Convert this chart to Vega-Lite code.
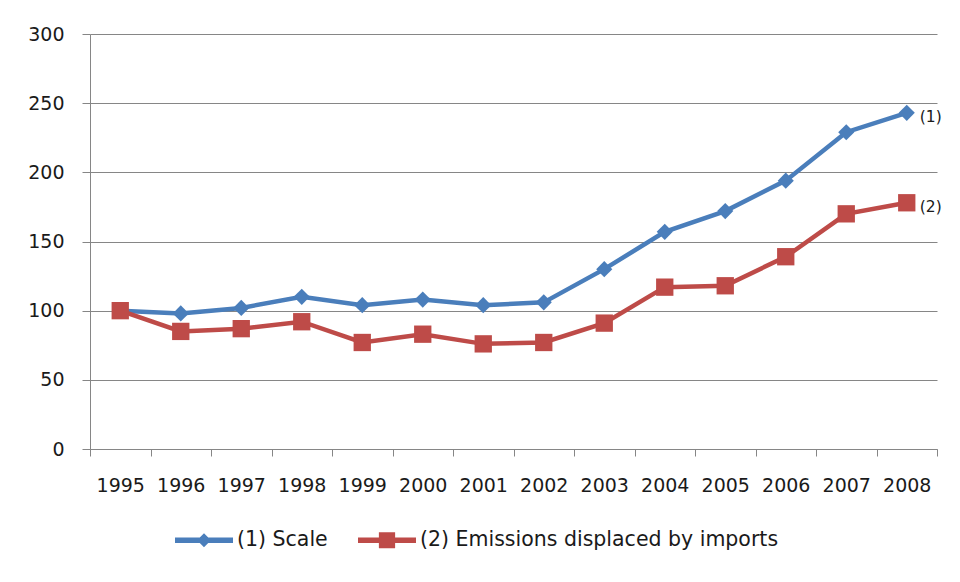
{
  "$schema": "https://vega.github.io/schema/vega-lite/v6.json",
  "width": 847,
  "height": 415,
  "autosize": {"type": "none"},
  "padding": {"left": 90, "top": 34, "right": 23, "bottom": 133},
  "background": "white",
  "config": {
    "view": {"stroke": null},
    "font": "DejaVu Sans",
    "axis": {
      "labelFont": "DejaVu Sans",
      "labelFontSize": 19,
      "labelColor": "#1a1a1a",
      "domainColor": "#868686",
      "tickColor": "#868686",
      "gridColor": "#868686",
      "title": null
    }
  },
  "datasets": {
    "series": [
      {"year": "1995", "series": "(1) Scale", "value": 100},
      {"year": "1996", "series": "(1) Scale", "value": 98},
      {"year": "1997", "series": "(1) Scale", "value": 102},
      {"year": "1998", "series": "(1) Scale", "value": 110},
      {"year": "1999", "series": "(1) Scale", "value": 104},
      {"year": "2000", "series": "(1) Scale", "value": 108},
      {"year": "2001", "series": "(1) Scale", "value": 104},
      {"year": "2002", "series": "(1) Scale", "value": 106},
      {"year": "2003", "series": "(1) Scale", "value": 130},
      {"year": "2004", "series": "(1) Scale", "value": 157},
      {"year": "2005", "series": "(1) Scale", "value": 172},
      {"year": "2006", "series": "(1) Scale", "value": 194},
      {"year": "2007", "series": "(1) Scale", "value": 229},
      {"year": "2008", "series": "(1) Scale", "value": 243},
      {"year": "1995", "series": "(2) Emissions displaced by imports", "value": 100},
      {"year": "1996", "series": "(2) Emissions displaced by imports", "value": 85},
      {"year": "1997", "series": "(2) Emissions displaced by imports", "value": 87},
      {"year": "1998", "series": "(2) Emissions displaced by imports", "value": 92},
      {"year": "1999", "series": "(2) Emissions displaced by imports", "value": 77},
      {"year": "2000", "series": "(2) Emissions displaced by imports", "value": 83},
      {"year": "2001", "series": "(2) Emissions displaced by imports", "value": 76},
      {"year": "2002", "series": "(2) Emissions displaced by imports", "value": 77},
      {"year": "2003", "series": "(2) Emissions displaced by imports", "value": 91},
      {"year": "2004", "series": "(2) Emissions displaced by imports", "value": 117},
      {"year": "2005", "series": "(2) Emissions displaced by imports", "value": 118},
      {"year": "2006", "series": "(2) Emissions displaced by imports", "value": 139},
      {"year": "2007", "series": "(2) Emissions displaced by imports", "value": 170},
      {"year": "2008", "series": "(2) Emissions displaced by imports", "value": 178}
    ],
    "endLabels": [
      {"year": "2008", "value": 243, "tag": "(1)"},
      {"year": "2008", "value": 178, "tag": "(2)"}
    ]
  },
  "layer": [
    {
      "data": {"name": "series"},
      "mark": {"type": "line", "strokeWidth": 4.5},
      "encoding": {
        "x": {
          "field": "year", "type": "ordinal",
          "scale": {"paddingInner": 0, "paddingOuter": 0},
          "axis": {
            "labelAngle": 0, "tickBand": "extent", "tickSize": 7,
            "labelPadding": 20, "grid": false, "domainWidth": 1
          }
        },
        "y": {
          "field": "value", "type": "quantitative",
          "scale": {"domain": [0, 300], "nice": false},
          "axis": {
            "values": [0, 50, 100, 150, 200, 250, 300],
            "tickSize": 8, "labelPadding": 18, "grid": true
          }
        },
        "color": {
          "field": "series", "type": "nominal",
          "scale": {"range": ["#4A7EBB", "#BE4B48"]},
          "legend": {
            "title": null,
            "orient": "none",
            "direction": "horizontal",
            "legendX": 85,
            "legendY": 477,
            "labelFontSize": 20.5,
            "labelFont": "DejaVu Sans",
            "labelColor": "#1a1a1a",
            "labelLimit": 500,
            "symbolSize": 3364,
            "symbolStrokeWidth": 0,
            "labelOffset": 4,
            "columnPadding": 30,
            "encode": {
              "symbols": {
                "update": {
                  "shape": {"signal": "datum.value === '(1) Scale' ? 'M-1,-0.095L1,-0.095L1,0.095L-1,0.095Z M0,-0.24L0.24,0L0,0.24L-0.24,0Z' : 'M-1,-0.095L1,-0.095L1,0.095L-1,0.095Z M-0.28,-0.28L0.28,-0.28L0.28,0.28L-0.28,0.28Z'"},
                  "fill": {"scale": "color", "field": "value"},
                  "strokeWidth": {"value": 0},
                  "opacity": {"value": 1}
                }
              }
            }
          }
        }
      }
    },
    {
      "data": {"name": "series"},
      "mark": {"type": "point", "filled": true, "opacity": 1},
      "encoding": {
        "x": {"field": "year", "type": "ordinal"},
        "y": {"field": "value", "type": "quantitative"},
        "shape": {
          "field": "series", "type": "nominal",
          "scale": {"range": ["diamond", "square"]},
          "legend": null
        },
        "size": {
          "field": "series", "type": "nominal",
          "scale": {"range": [260, 300]},
          "legend": null
        },
        "color": {"field": "series", "type": "nominal"}
      }
    },
    {
      "data": {"name": "endLabels"},
      "mark": {"type": "text", "align": "left", "dx": 13, "dy": 4, "fontSize": 15.5, "color": "#1a1a1a", "font": "DejaVu Sans"},
      "encoding": {
        "x": {"field": "year", "type": "ordinal"},
        "y": {"field": "value", "type": "quantitative"},
        "text": {"field": "tag"}
      }
    }
  ]
}
